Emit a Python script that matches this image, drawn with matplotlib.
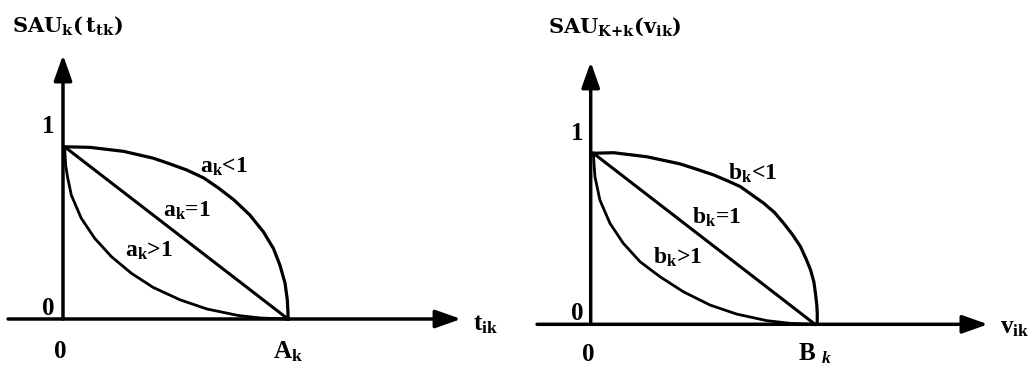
import numpy as np
import matplotlib.pyplot as plt

plt.rcParams['font.family'] = 'Liberation Serif'
plt.rcParams['font.weight'] = 'bold'
plt.rcParams['mathtext.fontset'] = 'custom'
plt.rcParams['mathtext.rm'] = 'Liberation Serif:bold'
plt.rcParams['mathtext.it'] = 'Liberation Serif:bold:italic'
plt.rcParams['mathtext.bf'] = 'Liberation Serif:bold'

# left panel: x in units of A_k, y = SAU
a_lt1_x = [0.007, 0.12, 0.27, 0.40, 0.47, 0.55, 0.625, 0.69, 0.76, 0.83, 0.89, 0.935,
           0.964, 0.987, 0.997, 1.0, 1.0]
a_lt1_y = [0.897, 0.894, 0.873, 0.838, 0.81, 0.776, 0.735, 0.683, 0.620, 0.542, 0.455, 0.368,
           0.281, 0.186, 0.099, 0.03, 0.0]
a_eq1_x = [0.007, 1.0]
a_eq1_y = [0.897, 0.0]
a_gt1_x = [0.007, 0.012, 0.02, 0.037, 0.081, 0.141, 0.215, 0.304, 0.40, 0.52, 0.64, 0.78, 0.88, 1.0]
a_gt1_y = [0.897, 0.80, 0.74, 0.645, 0.525, 0.42, 0.325, 0.238, 0.165, 0.10, 0.052, 0.018, 0.005, 0.0]

# right panel: x in units of B_k
b_lt1_x = [0.012, 0.101, 0.25, 0.398, 0.47, 0.547, 0.61, 0.667, 0.771, 0.82, 0.86, 0.90,
           0.935, 0.96, 0.98, 0.995, 1.002, 1.008, 1.01, 1.01]
b_lt1_y = [0.888, 0.891, 0.870, 0.833, 0.806, 0.776, 0.745, 0.715, 0.629, 0.58, 0.525, 0.465,
           0.404, 0.34, 0.283, 0.22, 0.161, 0.10, 0.057, 0.0]
b_eq1_x = [0.012, 1.0]
b_eq1_y = [0.888, 0.0]
b_gt1_x = [0.012, 0.015, 0.019, 0.041, 0.086, 0.145, 0.220, 0.309, 0.413, 0.532, 0.651, 0.785, 0.889, 1.0]
b_gt1_y = [0.888, 0.83, 0.766, 0.645, 0.524, 0.421, 0.325, 0.247, 0.169, 0.100, 0.053, 0.019, 0.005, 0.0]

left_labels = [r'a$_\mathrm{k}$<1', r'a$_\mathrm{k}$=1', r'a$_\mathrm{k}$>1']
right_labels = [r'b$_\mathrm{k}$<1', r'b$_\mathrm{k}$=1', r'b$_\mathrm{k}$>1']

W, H = 1031, 372
fig = plt.figure(figsize=(W / 100, H / 100), dpi=100)


def panel(left_px, right_px, x0, y0, ux, uy):
    # axes whose data units put the origin at pixel (x0, y0)
    ax = fig.add_axes([left_px / W, 0, (right_px - left_px) / W, 1])
    ax.set_xlim((left_px - x0) / ux, (right_px - x0) / ux)
    ax.set_ylim((y0 - H) / uy, y0 / uy)
    ax.axis('off')
    return ax


def arrow(ax, start, end):
    ax.annotate('', xy=end, xytext=start,
                arrowprops=dict(arrowstyle='-|>,head_length=1.55,head_width=0.55',
                                mutation_scale=10, lw=2.5, color='k',
                                shrinkA=0, shrinkB=0))


axL = panel(0, 515, 63, 319, 225, 192)
axR = panel(515, 1031, 590.7, 324.3, 224.3, 192.6)

# left
arrow(axL, (-0.244, 0), (1.769, 0))
arrow(axL, (0, 0), (0, 1.375))
axL.plot(a_lt1_x, a_lt1_y, color='k', lw=2.3, solid_joinstyle='round')
axL.plot(a_eq1_x, a_eq1_y, color='k', lw=2.2)
axL.plot(a_gt1_x, a_gt1_y, color='k', lw=2.0, solid_joinstyle='round')

axL.text(-0.227, 1.496, r'$\mathbf{SAU_k(\,t_{tk})}$', math_fontfamily='dejavuserif',
         fontsize=15, ha='left', va='baseline')
axL.text(-0.067, 0.969, '1', fontsize=18, ha='center', va='baseline')
axL.text(-0.067, 0.021, '0', fontsize=18, ha='center', va='baseline')
axL.text(-0.013, -0.203, '0', fontsize=18, ha='center', va='baseline')
axL.text(0.933, -0.203, r'A$_\mathrm{k}$', fontsize=18, ha='left', va='baseline')
axL.text(1.822, -0.057, r't$_\mathrm{ik}$', fontsize=18, ha='left', va='baseline')
for lab, (x, y) in zip(left_labels, [(0.609, 0.76), (0.446, 0.533), (0.276, 0.323)]):
    axL.text(x, y, lab, fontsize=17, ha='left', va='baseline')

# right
arrow(axR, (-0.239, 0), (1.771, 0))
arrow(axR, (0, 0), (0, 1.362))
axR.plot(b_lt1_x, b_lt1_y, color='k', lw=2.3, solid_joinstyle='round')
axR.plot(b_eq1_x, b_eq1_y, color='k', lw=2.2)
axR.plot(b_gt1_x, b_gt1_y, color='k', lw=2.0, solid_joinstyle='round')

axR.text(-0.19, 1.512, r'$\mathbf{SAU_{K{+}k}(v_{ik})}$', math_fontfamily='dejavuserif',
         fontsize=15, ha='left', va='baseline')
axR.text(-0.061, 0.957, '1', fontsize=18, ha='center', va='baseline')
axR.text(-0.061, 0.022, '0', fontsize=18, ha='center', va='baseline')
axR.text(-0.012, -0.19, '0', fontsize=18, ha='center', va='baseline')
axR.text(0.924, -0.19, r'B $_\mathit{k}$', fontsize=18, ha='left', va='baseline')
axR.text(1.825, -0.045, r'v$_\mathrm{ik}$', fontsize=18, ha='left', va='baseline')
for lab, (x, y) in zip(right_labels, [(0.613, 0.749), (0.45, 0.524), (0.279, 0.317)]):
    axR.text(x, y, lab, fontsize=17, ha='left', va='baseline')

fig.savefig('out.png', dpi=100)
